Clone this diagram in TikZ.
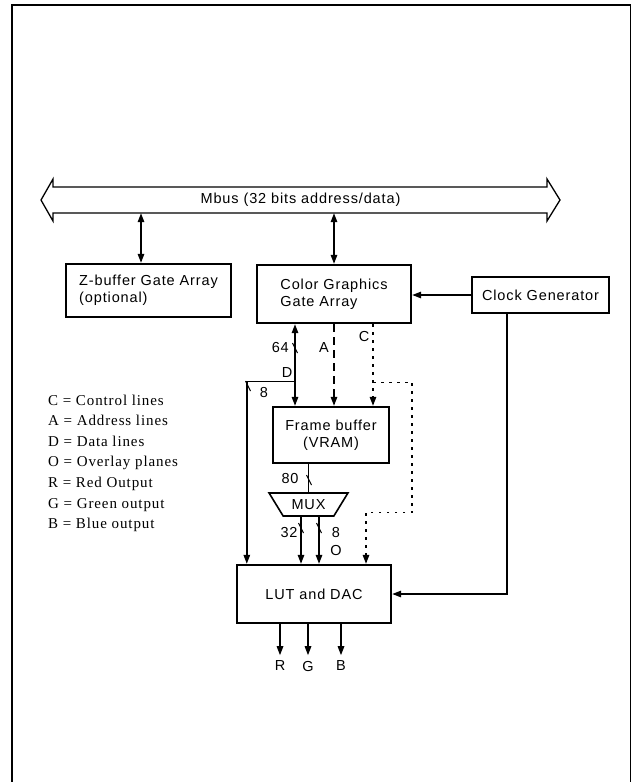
\documentclass[tikz,border=0pt]{standalone}
\usepackage{fontspec}
\setmainfont{Liberation Sans}[LetterSpace=6]
\newfontfamily\legendfont{Liberation Serif}[LetterSpace=6]
\usetikzlibrary{arrows.meta, positioning, calc, shapes.geometric}

\tikzset{
  blockbox/.style={draw, line width=2.4pt, inner sep=0pt, align=center},
  wire/.style={line width=1.4pt},
  sig/.style={wire, -{Triangle[length=9pt, width=6.5pt]}},
  bisig/.style={wire, {Triangle[length=9pt, width=6.5pt]}-{Triangle[length=9pt, width=6.5pt]}},
  addr/.style={dash pattern=on 8pt off 5pt},
  ctrl/.style={dash pattern=on 2.5pt off 5.5pt},
  lbl/.style={inner sep=0pt},
  legend/.style={inner sep=0pt, font=\legendfont\fontsize{15}{18}\selectfont},
  slash/.pic={\draw[line width=1.1pt] (-2.5,-5) -- (2.5,5);}
}

\begin{document}
\begin{tikzpicture}[x=1pt, y=-1pt, font=\fontsize{14.5}{17}\selectfont]
  \useasboundingbox (0,0) rectangle (632,782);
  \draw[line width=1.3pt] (12,782) -- (12,5) -- (630.5,5) -- (630.5,782);

  % Mbus
  \draw[line width=1.3pt] (41,200) -- (53,179) -- (53,187) -- (547,187) -- (547,179) -- (560,200)
    -- (547,221) -- (547,213) -- (53,213) -- (53,221) -- cycle;
  \node[lbl, minimum width=494pt, minimum height=26pt] (mbus) at (300.5,200) {Mbus (32 bits address/data)};

  % blocks
  \node[blockbox, align=left, minimum width=165pt, minimum height=53pt] (zbuf) at (148.5,290.5) {Z-buffer Gate Array\\(optional)};
  \node[blockbox, align=left, minimum width=154pt, minimum height=58pt] (cgga) at (334,294) {Color Graphics\\Gate Array};
  \node[blockbox, minimum width=137pt, minimum height=36pt] (clkgen) at (540.5,295) {Clock Generator};
  \node[blockbox, minimum width=116pt, minimum height=56pt] (fbuf) at (331,435) {Frame buffer\\(VRAM)};
  \node[trapezium, draw, line width=1.6pt, shape border rotate=180, trapezium stretches=true,
    trapezium angle=47, minimum width=79pt, minimum height=23pt, inner sep=0pt] (mux) at (308.5,504.5) {MUX};
  \node[blockbox, minimum width=154pt, minimum height=58pt] (lut) at (314,594) {LUT and DAC};

  % bus and clock
  \draw[bisig] ([xshift=-7.5pt]zbuf.north |- mbus.south) -- ([xshift=-7.5pt]zbuf.north);
  \draw[bisig] (cgga.north |- mbus.south) -- (cgga.north);
  \draw[sig] (clkgen.west) -- (cgga.east |- clkgen.west);
  \draw[sig] ([xshift=-33.5pt]clkgen.south) |- (lut.east);

  % D, A, C lines
  \draw[bisig] ([xshift=-39pt]cgga.south) -- ([xshift=-39pt]cgga.south |- fbuf.north);
  \path ([xshift=-39pt]cgga.south) ++(0,57) coordinate (dsplit);
  \draw[sig] (dsplit) -| ([xshift=11pt]lut.north west);
  \draw[sig, addr] (cgga.south) -- (cgga.south |- fbuf.north);
  \draw[sig, ctrl] ([xshift=39pt]cgga.south) -- ([xshift=39pt]cgga.south |- fbuf.north);
  \path ([xshift=39pt]cgga.south) ++(0,58) coordinate (csplit);
  \draw[sig, ctrl] (csplit) -- ++(39,0) -- ++(0,130) -| ([xshift=52pt]lut.north);

  % frame buffer to MUX to LUT
  \draw[wire] (mux.north |- fbuf.south) -- (mux.north);
  \foreach \dx in {-7.5,10.5}
    \draw[sig] ([xshift=\dx pt]mux.south) -- ([xshift=\dx pt]mux.south |- lut.north);
  \foreach \dx/\lab in {-34/R, -6/G, 27/B}
    \draw[sig] ([xshift=\dx pt]lut.south) -- ++(0,31) node[lbl, below=5pt] (out\lab) {\lab};

  % bus widths
  \foreach \p in {(295,348), (248,386), (309,480), (301,528), (319,528)}
    \pic at \p {slash};
  \node[lbl, anchor=east] (w64) at (289,348) {64};
  \node[lbl] (la) at (324,348) {A};
  \node[lbl] (lc) at (364,337) {C};
  \node[lbl] (ld) at (287,373) {D};
  \node[lbl] (w8d) at (264,393) {8};
  \node[lbl] (w80) at (290,479) {80};
  \node[lbl] (w32) at (289,533) {32};
  \node[lbl] (w8o) at (336,533) {8};
  \node[lbl] (lo) at (336,551) {O};

  % legend
  \foreach \txt [count=\i] in {C = Control lines, A = Address lines, D = Data lines, O = Overlay planes,
      R = Red Output, G = Green output, B = Blue output}
    \node[legend, anchor=base west] (leg\i) at (48,384.4+\i*20.6) {\txt};
\end{tikzpicture}
\end{document}
